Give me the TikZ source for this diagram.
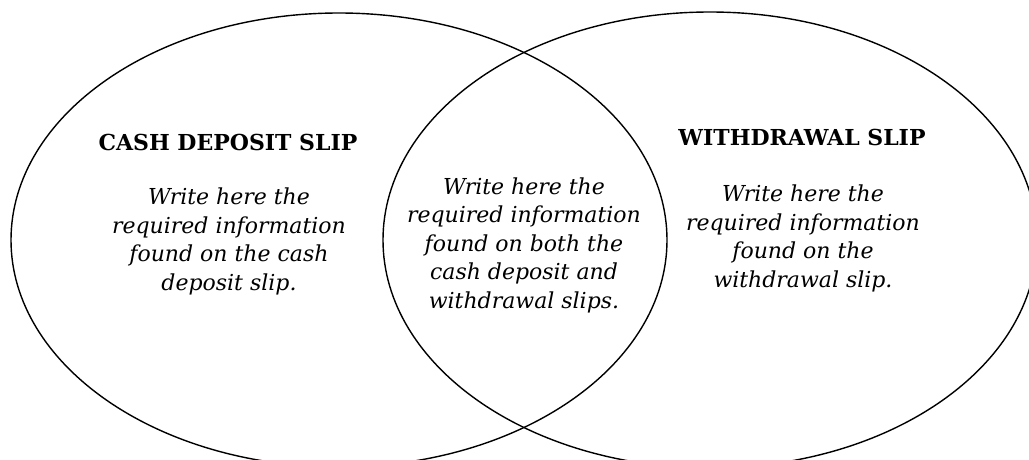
\documentclass[tikz,border=0pt]{standalone}
\usepackage{fontspec}
\setmainfont{DejaVu Serif}
\begin{document}
\begin{tikzpicture}[x=1pt,y=-1pt,
  ring/.style={draw=black,line width=1.4pt},
  title/.style={anchor=base,inner sep=0pt,font=\fontsize{22}{28.4}\selectfont\bfseries},
  body/.style={anchor=base,inner sep=0pt,align=center,font=\fontsize{22}{28.4}\selectfont\itshape}]
\useasboundingbox (0,0) rectangle (1029,460);
\clip (0,0) rectangle (1029,460);
\draw[ring] (339,240) ellipse [x radius=328, y radius=227];
\draw[ring] (710,240) ellipse [x radius=327, y radius=228];
\node[title] (lt) at (228,150) {CASH DEPOSIT SLIP};
\node[title] (rt) at (802,145) {WITHDRAWAL SLIP};
\node[body] (lb) at (229,290) {Write here the\\required information\\found on the cash\\deposit slip.};
\node[body] (mb) at (524,308) {Write here the\\required information\\found on both the\\cash deposit and\\withdrawal slips.};
\node[body] (rb) at (803,287) {Write here the\\required information\\found on the\\withdrawal slip.};
\end{tikzpicture}
\end{document}
